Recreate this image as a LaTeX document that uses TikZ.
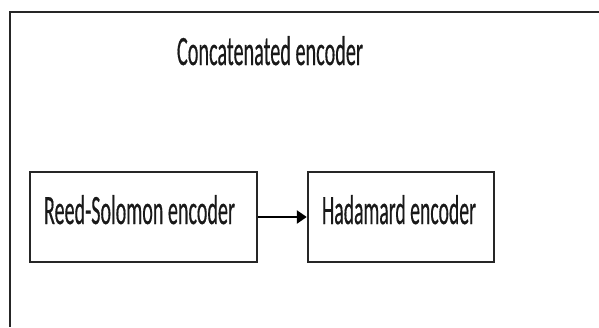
\documentclass[tikz,border=0pt]{standalone}
\usepackage{fontspec}
\setmainfont{Carlito}
\newfontfamily\heavyfont[FakeBold=0.6]{Carlito}
\usetikzlibrary{arrows.meta}
\newcommand{\condtext}[3]{\resizebox{#1}{#2}{\fontsize{40}{40}\heavyfont #3}}
\tikzset{
  blockbox/.style={draw=black!85, line width=2.4pt, minimum width=227pt, minimum height=90pt, inner sep=0pt},
  lbl/.style={inner sep=0pt, text=black!90, anchor=base},
  flow/.style={draw=black, line width=2.4pt, -{Triangle[length=10pt,width=13pt]}},
  frame/.style={draw=black!85, line width=2.6pt}
}
\begin{document}
\begin{tikzpicture}[x=1pt,y=1pt]
\useasboundingbox[fill=white] (0,0) rectangle (599,-327);
\coordinate (ftr) at (600,-12);
\coordinate (ftl) at (10,-12);
\coordinate (fbl) at (10,-327);
\draw[frame] (ftr) -- (ftl) -- (fbl);
\node[lbl] (title) at (270,-65) {\condtext{186pt}{29pt}{Concatenated encoder}};
\node[blockbox] (rs) at (143.5,-217) {};
\node[blockbox, minimum width=186pt] (had) at (401,-217) {};
\node[lbl] (rsl) at (139.5,-224) {\condtext{191pt}{29pt}{Reed-Solomon encoder}};
\node[lbl] (hadl) at (399,-224) {\condtext{154pt}{29pt}{Hadamard encoder}};
\draw[flow] (rs.east) -- (had.west);
\end{tikzpicture}
\end{document}
